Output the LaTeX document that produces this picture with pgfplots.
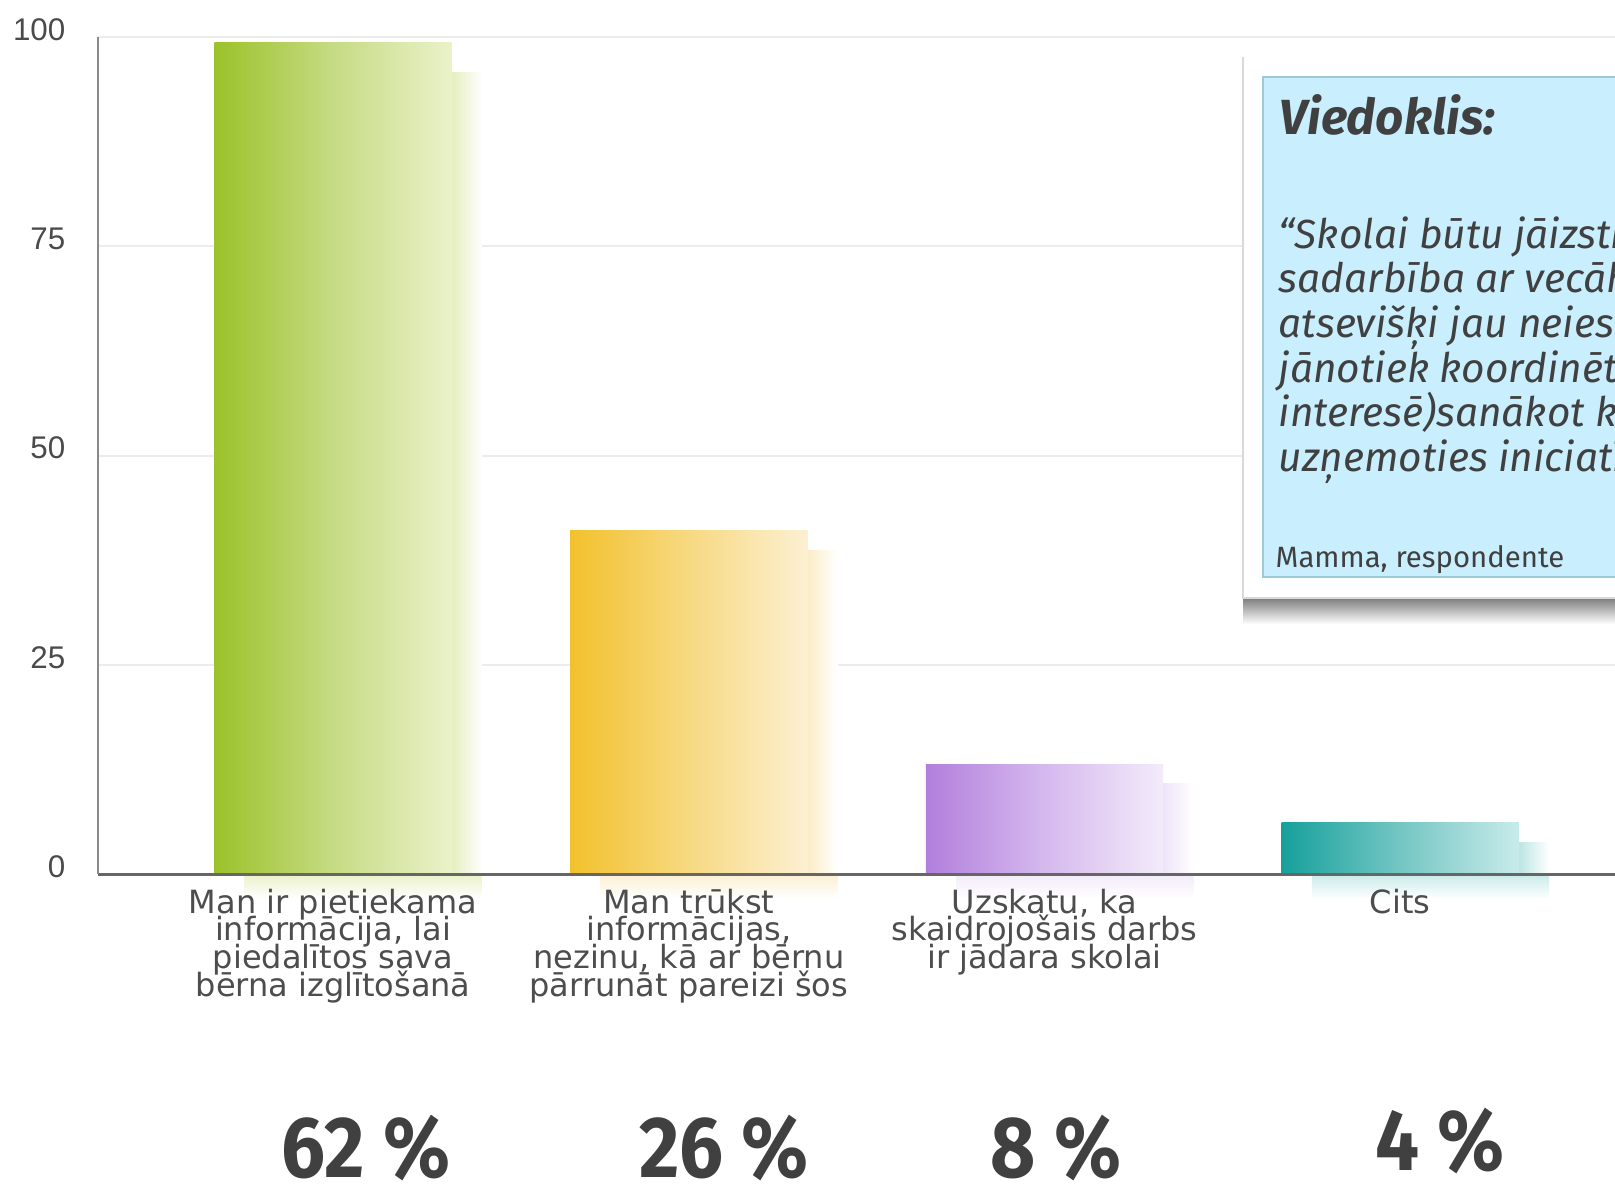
\documentclass[border=0pt]{standalone}
\usepackage{fontspec}
\setmainfont{Fira Sans}
\newfontfamily\labfont{DejaVu Sans}
\newfontfamily\tickfont{Liberation Sans}
\newfontfamily\pctfont[FakeStretch=0.9]{Fira Sans}
\usepackage{pgfplots}
\pgfplotsset{compat=1.18}

\definecolor{gL}{HTML}{9BC22A}
\definecolor{gM}{HTML}{C6DB84}
\definecolor{gR}{HTML}{EAF2C9}
\definecolor{yL}{HTML}{F2C12C}
\definecolor{yM}{HTML}{F7D982}
\definecolor{yR}{HTML}{FCF0D2}
\definecolor{pL}{HTML}{B27FDC}
\definecolor{pM}{HTML}{D5B9EE}
\definecolor{pR}{HTML}{F3EBFA}
\definecolor{tL}{HTML}{16A09C}
\definecolor{tM}{HTML}{74C6C3}
\definecolor{tR}{HTML}{C8EBEA}
\definecolor{txt}{HTML}{404040}
\definecolor{ticktxt}{HTML}{4A4A4A}
\definecolor{labtxt}{HTML}{4D4D4D}
\definecolor{gridc}{HTML}{ECECEC}
\definecolor{xaxisc}{HTML}{666666}
\definecolor{yaxisc}{HTML}{8A8A8A}
\definecolor{boxblue}{HTML}{C9EEFD}
\definecolor{boxline}{HTML}{9CC9DC}

\begin{document}
\begin{tikzpicture}[x=0.3pt,y=-0.3pt]
\path[use as bounding box] (0,0) rectangle (1615,1184);
\begin{scope}
\clip (0,0) rectangle (1615,1184);
\begin{axis}[
  at={(29.4pt,-262.2pt)}, anchor=south west,
  scale only axis, width=455.1pt, height=251.1pt,
  xmin=-0.661, xmax=3.604, ymin=0, ymax=100,
  clip=false, axis on top,
  axis x line*=bottom, axis y line*=left,
  x axis line style={draw=xaxisc, line width=0.9pt, -},
  y axis line style={draw=yaxisc, line width=0.6pt, -},
  ytick={0,25,50,75,100},
  major tick length=0pt,
  xtick={0,1,2,3},
  xticklabels={{Man ir pietiekama\\informācija, lai\\piedalītos sava\\bērna izglītošanā},
               {Man trūkst\\informācijas,\\nezinu, kā ar bērnu\\pārrunāt pareizi šos},
               {Uzskatu, ka\\skaidrojošais darbs\\ir jādara skolai},
               {Cits}},
  xticklabel style={align=center, anchor=north, inner sep=0pt, yshift=-4.2pt, text=labtxt,
     font={\labfont\fontsize{9.6}{8.3}\selectfont\lineskiplimit=-20pt}},
  yticklabel style={anchor=east, inner sep=0pt, xshift=-9.6pt, yshift=2.2pt, text=ticktxt,
     font={\tickfont\fontsize{9.4}{11}\selectfont}},
  /pgf/number format/assume math mode=true,
]
% horizontal grid lines
\addplot[draw=gridc, line width=0.6pt, forget plot] coordinates {(-0.661,25) (3.604,25)};
\addplot[draw=gridc, line width=0.6pt, forget plot] coordinates {(-0.661,50) (3.604,50)};
\addplot[draw=gridc, line width=0.6pt, forget plot] coordinates {(-0.661,75) (3.604,75)};
\addplot[draw=gridc, line width=0.6pt, forget plot] coordinates {(-0.661,100) (3.604,100)};
% glow below the axis
\addplot[ybar, bar width=0.667, bar shift=0.085, draw=none, top color=gR, bottom color=white, forget plot] coordinates {(0,-3.0)};
\addplot[ybar, bar width=0.667, bar shift=0.085, draw=none, top color=yR, bottom color=white, forget plot] coordinates {(1,-3.0)};
\addplot[ybar, bar width=0.667, bar shift=0.085, draw=none, top color=pR, bottom color=white, forget plot] coordinates {(2,-3.0)};
\addplot[ybar, bar width=0.667, bar shift=0.085, draw=none, top color=tR, bottom color=white, forget plot] coordinates {(3,-3.0)};
% right-hand shadow strips
\addplot[ybar, bar width=0.085, bar shift=0.376, draw=none, left color=gR!85!gM, right color=white, forget plot] coordinates {(0,95.8)};
\addplot[ybar, bar width=0.085, bar shift=0.376, draw=none, left color=yR!85!yM, right color=white, forget plot] coordinates {(1,38.7)};
\addplot[ybar, bar width=0.085, bar shift=0.376, draw=none, left color=pR!85!pM, right color=white, forget plot] coordinates {(2,10.8)};
\addplot[ybar, bar width=0.085, bar shift=0.376, draw=none, left color=tR!85!tM, right color=white, forget plot] coordinates {(3,3.8)};
% bars
\addplot[ybar, bar width=0.667, bar shift=0, draw=none, left color=gL, right color=gR, middle color=gM] coordinates {(0,99.3)};
\addplot[ybar, bar width=0.667, bar shift=0, draw=none, left color=yL, right color=yR, middle color=yM] coordinates {(1,41.0)};
\addplot[ybar, bar width=0.667, bar shift=0, draw=none, left color=pL, right color=pR, middle color=pM] coordinates {(2,13.1)};
\addplot[ybar, bar width=0.667, bar shift=0, draw=none, left color=tL, right color=tR, middle color=tM] coordinates {(3,6.1)};
\end{axis}

% percentages
\begin{scope}[every node/.style={anchor=base, inner sep=0pt, text=txt, font={\pctfont\bfseries\fontsize{26}{28}\selectfont}}]
\node at (366,1177) {62 \%};
\node at (724,1177) {26 \%};
\node at (1056,1177) {8 \%};
\node at (1440,1170) {4 \%};
\end{scope}

% callout
\fill[top color=black!55, bottom color=white] (1243,596) rectangle (1640,624);
\fill[white] (1243,57) rectangle (1660,598);
\draw[black!15, line width=0.6pt] (1243,57) -- (1243,598) -- (1660,598);
\filldraw[fill=boxblue, draw=boxline, line width=0.5pt] (1263,77) rectangle (1700,577);
\node[anchor=base west, inner sep=0pt, text=txt, font={\bfseries\itshape\fontsize{14.8}{16}\selectfont}] at (1279,134) {Viedoklis:};
\begin{scope}[every node/.style={anchor=base west, inner sep=0pt, text=txt, font={\itshape\fontsize{12.2}{14}\selectfont}}]
\node at (1278,248) {“Skolai būtu jāizstrādā};
\node at (1278,292.7) {sadarbība ar vecākiem};
\node at (1278,337.4) {atsevišķi jau neies};
\node at (1278,382.1) {jānotiek koordinēti};
\node at (1278,426.8) {interesē)sanākot kopā};
\node at (1278,471.5) {uzņemoties iniciatīvu};
\end{scope}
\node[anchor=base west, inner sep=0pt, text=txt, font={\fontsize{8.8}{11}\selectfont}] at (1275,567) {Mamma, respondente};
\end{scope}
\end{tikzpicture}
\end{document}
